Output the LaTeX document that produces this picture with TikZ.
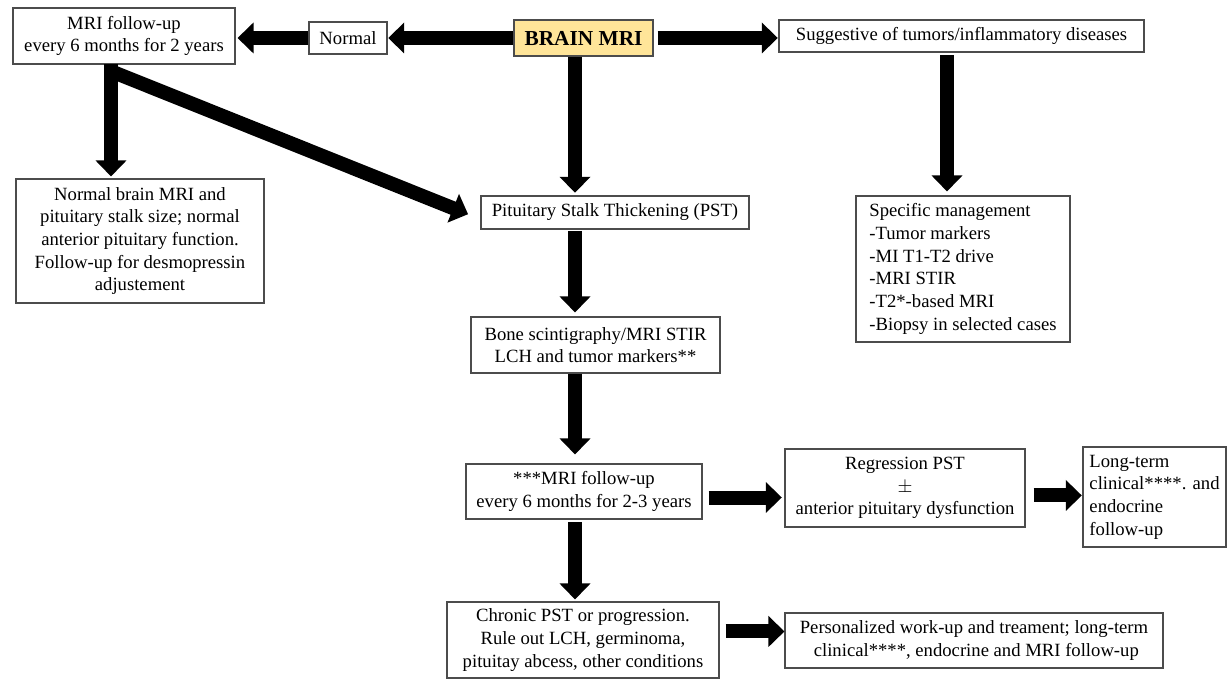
\documentclass[tikz,border=0pt]{standalone}
\usepackage{fontspec}
\setmainfont{Liberation Serif}
\usetikzlibrary{arrows.meta}
\definecolor{brainfill}{RGB}{255,229,153}
\def\pxu{0.75pt}
\tikzset{
  box/.style={draw=black!70, line width=0.8pt, align=center, inner sep=0pt,
    font=\fontsize{14}{17}\selectfont},
  bigarrow/.style={line width=10.5pt, -{Triangle[width=22.5pt,length=12pt]},
    shorten <=1pt, shorten >=1.5pt},
}
\begin{document}
\begin{tikzpicture}[x=0.75pt,y=-0.75pt]
\useasboundingbox (0,0) rectangle (1227,680);
% top row
\node[box,minimum width=222*\pxu,minimum height=56*\pxu] (fu1) at (124,36) {MRI follow-up\\every 6 months for 2 years};
\node[box,minimum width=78*\pxu,minimum height=32*\pxu] (normal) at (348,38) {Normal};
\node[box,fill=brainfill,minimum width=139*\pxu,minimum height=36*\pxu,font=\fontsize{16}{18}\selectfont\bfseries] (brain) at (583.5,38) {BRAIN MRI};
\node[box,minimum width=365*\pxu,minimum height=32*\pxu] (sugg) at (961.5,36) {Suggestive of tumors/inflammatory diseases};
% second row
\node[box,minimum width=248*\pxu,minimum height=124*\pxu] (nbm) at (140,241) {Normal brain MRI and\\pituitary stalk size; normal\\anterior pituitary function.\\Follow-up for desmopressin\\adjustement};
\node[box,minimum width=268*\pxu,minimum height=33*\pxu] (pst) at (615,212.5) {Pituitary Stalk Thickening (PST)};
\node[box,align=left,minimum width=214*\pxu,minimum height=146*\pxu] (spec) at (963,269) {Specific management\\-Tumor markers\\-MI T1-T2 drive\\-MRI STIR\\-T2*-based MRI\\-Biopsy in selected cases};
\node[box,minimum width=249*\pxu,minimum height=56*\pxu] (bone) at (595.5,345) {Bone scintigraphy/MRI STIR\\LCH and tumor markers**};
% follow-up rows
\node[box,minimum width=236*\pxu,minimum height=55*\pxu] (fu2) at (584,491.5) {***MRI follow-up\\every 6 months for 2-3 years};
\node[box,minimum width=240*\pxu,minimum height=78*\pxu] (regr) at (905,488) {Regression PST\\$\pm$\\anterior pituitary dysfunction};
\node[box,align=left,minimum width=143*\pxu,minimum height=100*\pxu] (longt) at (1154.5,497) {Long-term\\clinical****. and\\endocrine\\follow-up};
\node[box,minimum width=272*\pxu,minimum height=76*\pxu] (chron) at (583,640) {Chronic PST or progression.\\Rule out LCH, germinoma,\\pituitay abcess, other conditions};
\node[box,minimum width=378*\pxu,minimum height=55*\pxu] (pers) at (974,640.5) {Personalized work-up and treament; long-term\\\ clinical****, endocrine and MRI follow-up};
% helper points
\coordinate (spine) at (575,0);
\coordinate (col2) at (947,0);
\coordinate (split) at (111,64);
\coordinate (split2) at (113,72);
\coordinate (r1) at ([yshift=-4.5pt]fu2.east);
\coordinate (r2) at ([yshift=-5.6pt]regr.east);
\coordinate (r3) at ([yshift=6.4pt]chron.east);
% arrows
\draw[bigarrow,shorten <=0pt,shorten >=0.5pt] (brain.west) -- (normal.east);
\draw[bigarrow,shorten <=0pt] (normal.west) -- (fu1.east |- normal.west);
\draw[bigarrow,shorten <=3pt,shorten >=0.5pt] (brain.east) -- (sugg.west |- brain.east);
\draw[bigarrow,shorten <=0pt,shorten >=2pt] (brain.south -| spine) -- (pst.north -| spine);
\draw[bigarrow,shorten <=2pt,shorten >=3pt] (sugg.south -| col2) -- (spec.north -| col2);
\draw[bigarrow,shorten <=0pt] (split) -- (nbm.north -| split);
\draw[bigarrow,shorten <=0pt,shorten >=10pt] (split2) -- ([yshift=-5pt]pst.west);
\draw[bigarrow,shorten >=3pt] (pst.south -| spine) -- (bone.north -| spine);
\draw[bigarrow,shorten <=0pt,shorten >=6.75pt] (bone.south -| spine) -- (fu2.north -| spine);
\draw[bigarrow,shorten <=2pt] (fu2.south -| spine) -- (chron.north -| spine);
\draw[bigarrow,shorten <=4.5pt,shorten >=2pt] (r1) -- (r1 -| regr.west);
\draw[bigarrow,shorten <=6pt,shorten >=0.5pt] (r2) -- (r2 -| longt.west);
\draw[bigarrow,shorten <=4.5pt,shorten >=0pt] (r3) -- (r3 -| pers.west);
\end{tikzpicture}
\end{document}
